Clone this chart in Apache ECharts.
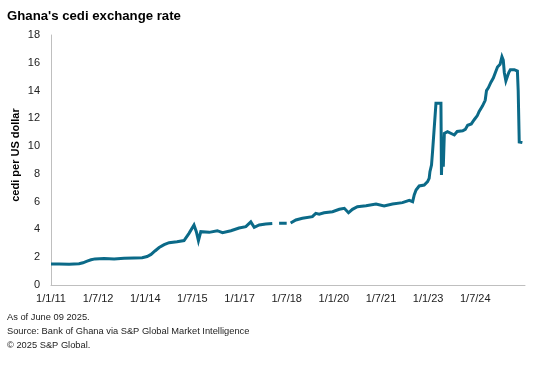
<!DOCTYPE html>
<html>
<head>
<meta charset="utf-8">
<script src="https://cdn.jsdelivr.net/npm/echarts@6/dist/echarts.min.js"></script>
<style>
html,body{margin:0;padding:0;background:#fff;}
#chart{width:545px;height:365px;}
</style>
</head>
<body>
<div id="chart"></div>
<script>
// x position in months from 1/1/11, cedi per US dollar
var months = [0, 3.1, 6.9, 10.7, 12.2, 13.8, 15.3, 16.8, 20.3, 24.1, 27.9, 31.7, 34.8, 36.7, 38.2, 39.7, 41.3, 43.2, 45.1, 48.1, 50.8, 52.7, 54.6, 55.5, 56.3, 57.2, 60.4, 63.5, 65.5, 68.7, 71.8, 74.4, 76.3, 77.6, 79.5, 82.0, 84.5,
  85.3, 87.1, 90.0, 90.7,
  91.5, 93.5, 96.0, 99.8, 101.1, 102.4, 104.3, 107.5, 110.1, 112.0, 113.6, 115.1, 117.0, 120.3, 124.1, 127.2, 130.4, 134.2, 136.8, 138.1, 138.7, 139.4, 140.6, 142.5, 143.8, 144.4, 144.7, 145.3, 145.7, 146.4, 147.0, 148.9, 149.1, 149.5, 149.8, 150.2, 151.4, 152.1, 154.0, 155.1, 157.2, 158.2, 159.1, 160.5, 161.6, 162.8, 163.5, 164.8, 165.8, 166.3, 167.0, 168.0, 168.9, 169.7, 170.5, 171.5, 172.2, 172.7, 173.1, 173.7, 174.0, 174.8, 175.4, 176.9, 178.1, 178.4, 178.8, 180.0];
var rates = [1.51, 1.52, 1.50, 1.53, 1.60, 1.72, 1.82, 1.88, 1.90, 1.88, 1.92, 1.95, 1.97, 2.05, 2.20, 2.45, 2.70, 2.90, 3.05, 3.12, 3.20, 3.72, 4.32, 3.84, 3.19, 3.84, 3.79, 3.91, 3.77, 3.91, 4.10, 4.20, 4.54, 4.15, 4.32, 4.39, 4.42,
  '-', 4.44, 4.44, '-',
  4.46, 4.68, 4.80, 4.92, 5.16, 5.09, 5.20, 5.28, 5.45, 5.52, 5.20, 5.45, 5.64, 5.71, 5.83, 5.69, 5.83, 5.93, 6.10, 6.00, 6.48, 6.84, 7.13, 7.20, 7.44, 7.68, 8.16, 8.64, 9.60, 9.72, 13.08, 13.08, 7.92, 10.68, 8.52, 10.92, 11.04, 11.10, 10.80, 11.05, 11.10, 11.20, 11.50, 11.60, 11.90, 12.20, 12.50, 12.90, 13.30, 14.00, 14.20, 14.60, 14.90, 15.30, 15.70, 15.90, 16.44, 16.20, 15.30, 14.70, 14.80, 15.30, 15.50, 15.50, 15.40, 14.00, 10.30, 10.25];
var xTickMonths = [0, 18, 36, 54, 72, 90, 108, 126, 144, 162];
var xTickLabels = ['1/1/11', '1/7/12', '1/1/14', '1/7/15', '1/1/17', '1/7/18', '1/1/20', '1/7/21', '1/1/23', '1/7/24'];
var yTicks = [0, 2, 4, 6, 8, 10, 12, 14, 16, 18];
var titleText = "Ghana's cedi exchange rate";
var yName = 'cedi per US dollar';
var notes = ['As of June 09 2025.', 'Source: Bank of Ghana via S&P Global Market Intelligence', '\u00A9 2025 S&P Global.'];

var seriesData = months.map(function (m, i) { return [m, rates[i]]; });
var chart = echarts.init(document.getElementById('chart'), null, {renderer: 'canvas'});
var font = 'Liberation Sans, Arial, sans-serif';
var titles = [{
  text: titleText, left: 7, top: 10, padding: 0,
  textStyle: {fontFamily: font, fontSize: 13.2, fontWeight: 'bold', color: '#000'}
}];
notes.forEach(function (t, i) {
  titles.push({text: t, left: 7, top: 313 + i * 14, padding: 0,
    textStyle: {fontFamily: font, fontSize: 9.3, fontWeight: 'normal', color: '#222'}});
});
chart.setOption({
  animation: false,
  backgroundColor: '#fff',
  title: titles,
  grid: {left: 51, right: 20, top: 35, bottom: 80, containLabel: false, outerBoundsMode: 'none'},
  xAxis: {
    type: 'value', min: 0, max: 181, interval: 18,
    axisLine: {show: true, lineStyle: {color: '#bfbfbf', width: 1}},
    axisTick: {show: false},
    splitLine: {show: false},
    axisLabel: {
      showMaxLabel: false, margin: 8,
      fontFamily: font, fontSize: 11, color: '#222',
      formatter: function (v) {
        var i = xTickMonths.indexOf(v);
        return i >= 0 ? xTickLabels[i] : '';
      }
    }
  },
  yAxis: {
    type: 'value', min: yTicks[0], max: yTicks[yTicks.length - 1], interval: 2,
    name: yName, nameLocation: 'middle', nameGap: 30, nameRotate: 90, nameMoveOverlap: false,
    nameTextStyle: {fontFamily: font, fontSize: 11, fontWeight: 'bold', color: '#000', padding: [0, 0, 0, 10]},
    axisLine: {show: true, lineStyle: {color: '#bfbfbf', width: 1}},
    axisTick: {show: false},
    splitLine: {show: false},
    axisLabel: {fontFamily: font, fontSize: 11, color: '#222', margin: 11}
  },
  series: [{
    type: 'line', data: seriesData, showSymbol: false, connectNulls: false,
    lineStyle: {color: '#0b6a88', width: 3, join: 'miter', cap: 'butt'},
    itemStyle: {color: '#0b6a88'}
  }]
});
</script>
</body>
</html>
